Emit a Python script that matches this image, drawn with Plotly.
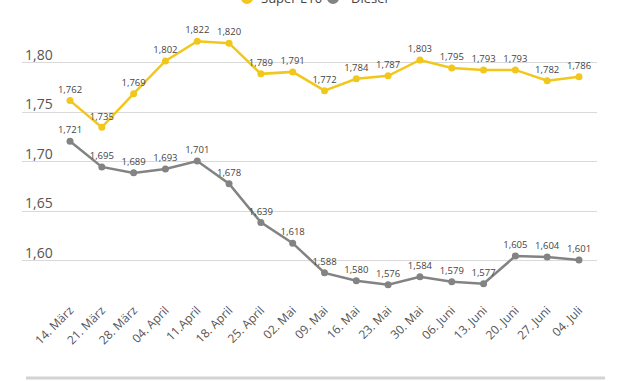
import plotly.graph_objects as go

categories = ["14. März", "21. März", "28. März", "04. April", "11.April", "18. April",
              "25. April", "02. Mai", "09. Mai", "16. Mai", "23. Mai", "30. Mai",
              "06. Juni", "13. Juni", "20. Juni", "27. Juni", "04. Juli"]
super_e10 = [1.762, 1.735, 1.769, 1.802, 1.822, 1.820, 1.789, 1.791, 1.772, 1.784,
             1.787, 1.803, 1.795, 1.793, 1.793, 1.782, 1.786]
diesel = [1.721, 1.695, 1.689, 1.693, 1.701, 1.678, 1.639, 1.618, 1.588, 1.580,
          1.576, 1.584, 1.579, 1.577, 1.605, 1.604, 1.601]
y_ticks = [1.60, 1.65, 1.70, 1.75, 1.80]
series_names = ["Super E10", "Diesel"]

YELLOW = "#F2C71B"
GRAY = "#838383"
FONT = "Open Sans"

fig = go.Figure()
for name, vals, col in [(series_names[0], super_e10, YELLOW), (series_names[1], diesel, GRAY)]:
    fig.add_trace(go.Scatter(
        x=categories, y=vals, name=name, mode="lines+markers+text",
        line=dict(color=col, width=2.5), marker=dict(color=col, size=7),
        texttemplate="%{y:.3f}", textposition="top center",
        textfont=dict(size=9.5, color="#444444", family=FONT),
        showlegend=False,
    ))

# custom legend (partially cut at the top edge, as in the reference)
legend_shapes = []
legend_annots = []
for (cx, tx, col, name) in [(0.3913, 0.412, YELLOW, series_names[0]),
                            (0.5409, 0.5687, GRAY, series_names[1])]:
    legend_shapes.append(dict(type="circle", xref="paper", yref="paper",
                              xsizemode="pixel", ysizemode="pixel",
                              xanchor=cx, yanchor=1.0815,
                              x0=-6, x1=6, y0=-6, y1=6,
                              fillcolor=col, line=dict(width=0), layer="above"))
    legend_annots.append(dict(xref="paper", yref="paper", x=tx, y=1.0815,
                              xanchor="left", yanchor="middle", showarrow=False,
                              text=name, font=dict(size=13, color="#444444", family=FONT)))

legend_shapes.append(dict(type="line", xref="paper", yref="paper", x0=0.007, x1=1.014,
                          y0=-0.326, y1=-0.326, line=dict(color="#d3d3d3", width=3)))

fig.update_layout(
    width=630, height=381,
    margin=dict(l=22, r=33, t=20, b=91, autoexpand=False),
    paper_bgcolor="white", plot_bgcolor="white",
    separators=",.",
    font=dict(family=FONT, color="#555555"),
    showlegend=False,
    hovermode=False,
    xaxis=dict(type="category", range=[-1.509, 16.566], showgrid=False, zeroline=False,
               showline=False, ticks="", tickangle=-45, ticklabelstandoff=10,
               tickfont=dict(size=12, color="#555555")),
    yaxis=dict(range=[1.5707, 1.8434], tickvals=y_ticks, tickformat=".2f",
               showgrid=True, gridcolor="#d9d9d9", gridwidth=1, zeroline=False,
               showline=False, ticks="", ticklabelposition="inside", ticklabelshift=-8,
               tickfont=dict(size=14, color="#555555")),
    shapes=legend_shapes,
    annotations=legend_annots,
)

fig.write_html("out.html", config={"displayModeBar": False},
               post_script="document.body.style.margin='0';document.body.style.overflow='hidden';")
